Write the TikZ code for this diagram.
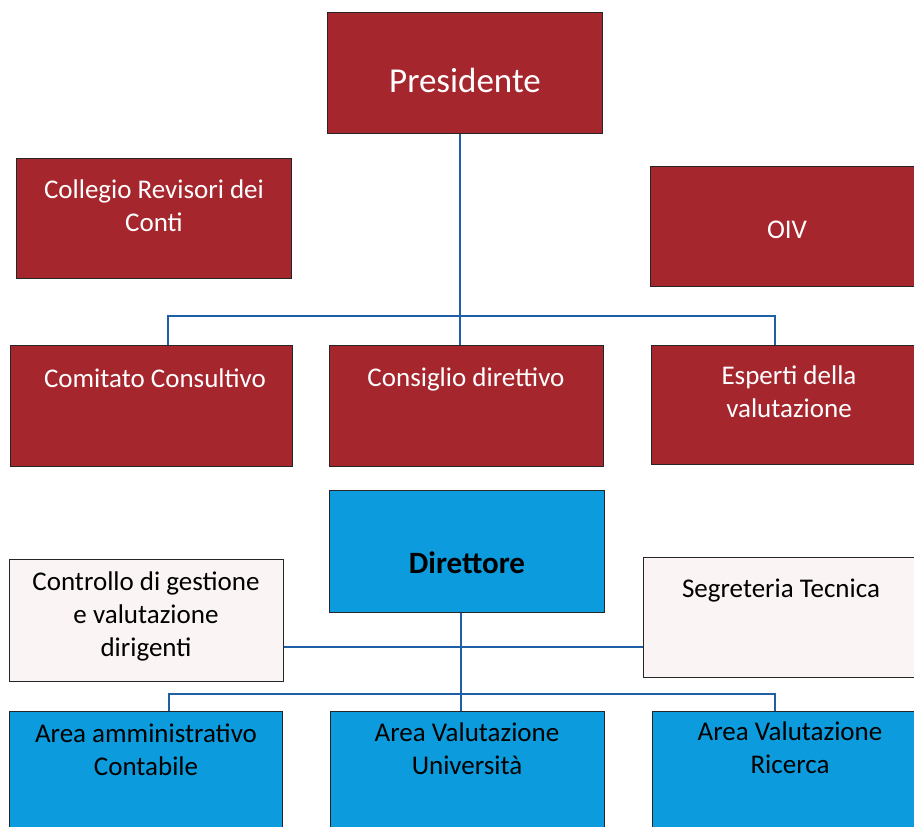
\documentclass[tikz,border=0pt]{standalone}
\usepackage{fontspec}
\setmainfont{Carlito}
\definecolor{redbox}{RGB}{166,38,46}
\definecolor{bluebox}{RGB}{12,155,220}
\definecolor{lightbox}{RGB}{251,244,244}
\definecolor{conncol}{RGB}{30,95,165}
\begin{document}
\begin{tikzpicture}[x=1pt,y=-1pt,
  box/.style={draw=black!85,line width=1.2pt,anchor=north west,inner sep=0pt},
  redb/.style={box,fill=redbox},
  blueb/.style={box,fill=bluebox},
  lightb/.style={box,fill=lightbox},
  lab/.style={anchor=base,align=center,inner sep=0pt,font=\fontsize{27}{33}\selectfont},
  wlab/.style={lab,text=white},
  conn/.style={draw=conncol,line width=1.6pt}]
\useasboundingbox (0,0) rectangle (914,827);
\clip (0,0) rectangle (914,827);
% boxes
\node[redb,minimum width=275pt,minimum height=121pt] (pres) at (327,12) {};
\node[redb,minimum width=275pt,minimum height=120pt] (coll) at (16,158) {};
\node[redb,minimum width=276pt,minimum height=120pt] (oiv) at (650,166) {};
\node[redb,minimum width=282pt,minimum height=121pt] (com) at (10,345) {};
\node[redb,minimum width=274pt,minimum height=121pt] (cons) at (329,345) {};
\node[redb,minimum width=276pt,minimum height=119pt] (esp) at (651,345) {};
\node[blueb,minimum width=275pt,minimum height=122pt] (dir) at (329,490) {};
\node[lightb,minimum width=274pt,minimum height=122pt] (ctrl) at (9,559) {};
\node[lightb,minimum width=276pt,minimum height=120pt] (segr) at (643,557) {};
\node[blueb,minimum width=273pt,minimum height=130pt] (aamm) at (9,711) {};
\node[blueb,minimum width=274pt,minimum height=130pt] (auni) at (330,711) {};
\node[blueb,minimum width=276pt,minimum height=130pt] (aric) at (652,711) {};
% labels (anchor=base is the baseline of the last line)
\node[wlab,font=\fontsize{35}{42}\selectfont] (tpres) at (465,92) {Presidente};
\node[wlab] (tcoll) at (154,231) {Collegio Revisori dei\\Conti};
\node[wlab] (toiv) at (787,238) {OIV};
\node[wlab] (tcom) at (155,387) {Comitato Consultivo};
\node[wlab] (tcons) at (466,386) {Consiglio direttivo};
\node[wlab] (tesp) at (789,417) {Esperti della\\valutazione};
\node[lab,font=\fontsize{31}{37}\selectfont\bfseries] (tdir) at (467,573) {Direttore};
\node[lab] (tctrl) at (146,656) {Controllo di gestione\\e valutazione\\dirigenti};
\node[lab] (tsegr) at (781,597) {Segreteria Tecnica};
\node[lab] (taamm) at (146,775) {Area amministrativo\\Contabile};
\node[lab] (tauni) at (467,774) {Area Valutazione\\Università};
\node[lab] (taric) at (790,773) {Area Valutazione\\Ricerca};
% connectors
\coordinate (bus1) at (0,316);
\coordinate (bus2) at (0,694);
\coordinate (xl1) at (168,0);
\coordinate (xc1) at (460,0);
\coordinate (xr1) at (775,0);
\coordinate (xl2) at (169,0);
\coordinate (xc2) at (461,0);
\coordinate (xr2) at (775,0);
\draw[conn] (pres.south -| xc1) -- (cons.north -| xc1);
\draw[conn] (com.north -| xl1) -- (xl1 |- bus1) -- (xr1 |- bus1) -- (esp.north -| xr1);
\draw[conn] (dir.south -| xc2) -- (auni.north -| xc2);
\draw[conn] (aamm.north -| xl2) -- (xl2 |- bus2) -- (xr2 |- bus2) -- (aric.north -| xr2);
\draw[conn] (ctrl.east |- 0,647) -- (segr.west |- 0,647);
\end{tikzpicture}
\end{document}
